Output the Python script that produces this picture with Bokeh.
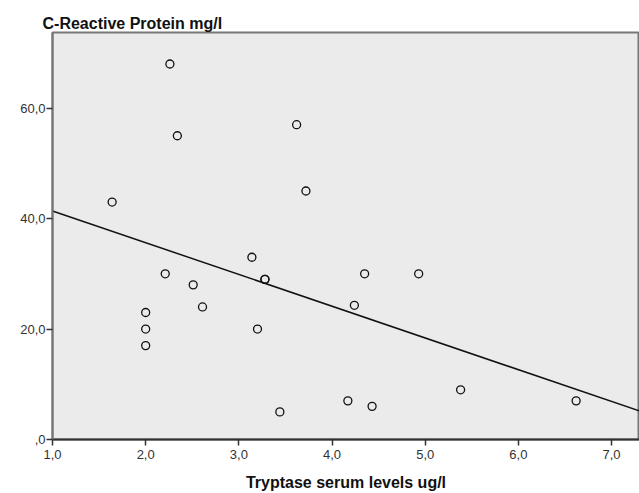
import numpy as np
from bokeh.plotting import figure
from bokeh.models import FixedTicker, Range1d, ColumnDataSource
from bokeh.embed import file_html
from bokeh.resources import INLINE

# Data
tryptase = [1.64, 2.26, 2.34, 3.62, 3.72, 2.00, 2.00, 2.00, 2.21, 2.51, 2.61,
            3.14, 3.28, 3.28, 3.20, 3.44, 4.35, 4.93, 4.24, 4.17, 4.43, 5.38, 6.62]
crp = [43, 68, 55, 57, 45, 23, 20, 17, 30, 28, 24,
       33, 29, 29, 20, 5, 30, 30, 24.3, 7, 6, 9, 7]
x_ticks = [1, 2, 3, 4, 5, 6, 7]
x_tick_labels = ["1,0", "2,0", "3,0", "4,0", "5,0", "6,0", "7,0"]
y_ticks = [0, 20, 40, 60]
y_tick_labels = [",0", "20,0", "40,0", "60,0"]
x_min, x_max = 1.0, 7.3
y_min, y_max = 0.0, 73.7

FONT = "Liberation Sans"

p = figure(width=639, height=493, output_backend="svg", toolbar_location=None,
           x_range=Range1d(x_min, x_max), y_range=Range1d(y_min, y_max),
           min_border_left=52, min_border_right=0, min_border_top=32,
           min_border_bottom=52)

p.title.text = "C-Reactive Protein mg/l"
p.title.text_font = FONT
p.title.text_font_size = "16px"
p.title.text_font_style = "bold"
p.title.text_color = "#111111"
p.title.align = "left"
p.title.offset = -10
p.title.standoff = 1

p.background_fill_color = "#ebebeb"
p.border_fill_color = "white"
p.outline_line_color = "#777777"
p.outline_line_width = 2
p.grid.visible = False

p.xaxis.ticker = FixedTicker(ticks=x_ticks)
p.xaxis.major_label_overrides = {t: l for t, l in zip(x_ticks, x_tick_labels)}
p.yaxis.ticker = FixedTicker(ticks=y_ticks)
p.yaxis.major_label_overrides = {t: l for t, l in zip(y_ticks, y_tick_labels)}

for ax in (p.xaxis, p.yaxis):
    ax.axis_line_color = "#333333"
    ax.axis_line_width = 2
    ax.major_tick_line_color = "#333333"
    ax.major_tick_line_width = 1.5
    ax.major_tick_out = 6
    ax.major_tick_in = 0
    ax.minor_tick_line_color = None
    ax.major_label_text_font = FONT
    ax.major_label_text_font_size = "13px"
    ax.major_label_text_color = "#333333"

p.xaxis.major_label_standoff = 4
p.yaxis.major_label_standoff = 1
p.yaxis.axis_line_color = "#777777"
p.xaxis.axis_label = "Tryptase serum levels ug/l"
p.xaxis.axis_label_text_font = FONT
p.xaxis.axis_label_text_font_size = "16px"
p.xaxis.axis_label_text_font_style = "bold"
p.xaxis.axis_label_text_color = "#111111"
p.xaxis.axis_label_standoff = 12

# Linear regression fit line
slope, intercept = np.polyfit(np.array(tryptase), np.array(crp), 1)
line_x = [x_min, x_max]
line_y = [intercept + slope * x for x in line_x]
p.line(line_x, line_y, line_color="#111111", line_width=1.5)

src = ColumnDataSource(dict(x=tryptase, y=crp))
p.scatter("x", "y", source=src, marker="circle", size=8, fill_color=None,
          line_color="#111111", line_width=1.3)

open("out.html", "w").write(file_html(p, INLINE))
